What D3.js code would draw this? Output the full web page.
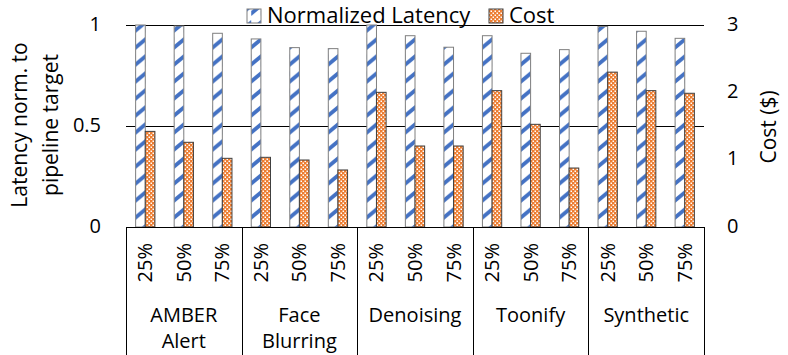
<!DOCTYPE html>
<html>
<head>
<meta charset="utf-8">
<script src="https://cdn.jsdelivr.net/npm/d3@7"></script>
<style>
  body { margin: 0; background: white; }
  text { font-family: "Open Sans", sans-serif; fill: #000; }
</style>
</head>
<body>
<div id="chart"></div>
<script>
// data
var workloads = ["AMBER Alert", "Face Blurring", "Denoising", "Toonify", "Synthetic"];
var levels = ["25%", "50%", "75%"];
var latency = [1.0, 0.995, 0.959, 0.931, 0.888, 0.883, 1.0, 0.947, 0.89, 0.947, 0.86, 0.878, 0.993, 0.969, 0.934];
var cost = [1.42, 1.258, 1.02, 1.035, 0.995, 0.847, 2.0, 1.203, 1.203, 2.025, 1.525, 0.876, 2.30, 2.025, 1.986];
var leftTicks = [0, 0.5, 1];
var rightTicks = [0, 1, 2, 3];
var seriesNames = ["Normalized Latency", "Cost"];

var width = 788, height = 355;
var x0 = 126, x1 = 704, yTop = 25, yBot = 227;

var svg = d3.select("#chart").append("svg")
    .attr("width", width)
    .attr("height", height);

// slots: one per workload/level pair
var slots = [];
workloads.forEach(function(w) {
  levels.forEach(function(l) { slots.push(w + "|" + l); });
});

var xGroup = d3.scaleBand().domain(workloads).range([x0, x1]);
var xSlot = d3.scaleBand().domain(slots).range([x0, x1]);
var yL = d3.scaleLinear().domain([0, 1]).range([yBot, yTop]);
var yR = d3.scaleLinear().domain([0, 3]).range([yBot, yTop]);
var barW = xSlot.bandwidth() / 4;

// patterns
var defs = svg.append("defs");
var pLat = defs.append("pattern")
    .attr("id", "latPat")
    .attr("patternUnits", "userSpaceOnUse")
    .attr("x", x0).attr("y", 0)
    .attr("width", barW).attr("height", 17);
pLat.append("rect").attr("width", barW).attr("height", 17).style("fill", "white");
pLat.append("polygon")
    .attr("points", "0,11 " + barW + ",3 " + barW + ",8 0,16")
    .style("fill", "#4472C4");

var pCost = defs.append("pattern")
    .attr("id", "costPat")
    .attr("patternUnits", "userSpaceOnUse")
    .attr("width", 4).attr("height", 4);
pCost.append("rect").attr("width", 4).attr("height", 4).style("fill", "#ED7D31");
pCost.append("rect").attr("x", 0.5).attr("y", 0.5).attr("width", 1.5).attr("height", 1.5).style("fill", "white");
pCost.append("rect").attr("x", 2.5).attr("y", 2.5).attr("width", 1.5).attr("height", 1.5).style("fill", "white");

// gridlines
svg.selectAll(".grid").data(leftTicks).enter()
  .append("line")
  .attr("x1", x0)
  .attr("x2", x1)
  .attr("y1", function(d) { return Math.round(yL(d)) + 0.5; })
  .attr("y2", function(d) { return Math.round(yL(d)) + 0.5; })
  .style("stroke", "#000")
  .style("stroke-width", 1);

// bars
svg.selectAll(".lat").data(latency).enter()
  .append("rect")
  .attr("x", function(d, i) { return xSlot(slots[i]) + barW; })
  .attr("y", function(d) { return yL(d); })
  .attr("width", barW)
  .attr("height", function(d) { return yBot - yL(d); })
  .style("fill", "url(#latPat)")
  .style("stroke", "#7f7f7f")
  .style("stroke-width", 1);

svg.selectAll(".cost").data(cost).enter()
  .append("rect")
  .attr("x", function(d, i) { return xSlot(slots[i]) + 2 * barW; })
  .attr("y", function(d) { return yR(d); })
  .attr("width", barW)
  .attr("height", function(d) { return yBot - yR(d); })
  .style("fill", "url(#costPat)")
  .style("stroke", "#404040")
  .style("stroke-width", 1);

// category axis: baseline and separators
svg.append("line")
  .attr("x1", x0).attr("x2", x1)
  .attr("y1", yBot + 0.5).attr("y2", yBot + 0.5)
  .style("stroke", "#000");

var bounds = workloads.map(function(w) { return xGroup(w); }).concat([x1]);
svg.selectAll(".sep").data(bounds).enter()
  .append("line")
  .attr("x1", function(d) { return Math.round(d) + 0.5; })
  .attr("x2", function(d) { return Math.round(d) + 0.5; })
  .attr("y1", yBot)
  .attr("y2", height)
  .style("stroke", "#000");

// level labels (rotated)
svg.selectAll(".lvl").data(slots).enter()
  .append("text")
  .attr("transform", function(d) {
    var cx = xSlot(d) + xSlot.bandwidth() / 2 + 7;
    return "translate(" + cx + ",243) rotate(-90)";
  })
  .attr("text-anchor", "end")
  .style("font-size", "20px")
  .text(function(d) { return d.split("|")[1]; });

// workload labels
var wl = svg.selectAll(".wl").data(workloads).enter()
  .append("text")
  .attr("x", function(d) { return xGroup(d) + xGroup.bandwidth() / 2; })
  .attr("y", 322)
  .attr("text-anchor", "middle")
  .style("font-size", "20px");
wl.selectAll("tspan").data(function(d) { return d.split(" "); }).enter()
  .append("tspan")
  .attr("x", function() { var p = this.parentNode; return p.getAttribute("x"); })
  .attr("dy", function(d, i) { return i === 0 ? 0 : 26; })
  .text(function(d) { return d; });

// left axis labels
svg.selectAll(".lt").data(leftTicks).enter()
  .append("text")
  .attr("x", 101)
  .attr("y", function(d) { return yL(d) - 2; })
  .attr("text-anchor", "end")
  .attr("dominant-baseline", "central")
  .style("font-size", "20px")
  .text(function(d) { return d; });

// right axis labels
svg.selectAll(".rt").data(rightTicks).enter()
  .append("text")
  .attr("x", 727)
  .attr("y", function(d) { return yR(d) - 2; })
  .attr("dominant-baseline", "central")
  .style("font-size", "20px")
  .text(function(d) { return d; });

// axis titles
var lt = svg.append("text")
  .attr("transform", "translate(27,125) rotate(-90)")
  .attr("text-anchor", "middle")
  .style("font-size", "21px");
lt.append("tspan").attr("x", 0).attr("dy", 0).text("Latency norm. to");
lt.append("tspan").attr("x", 0).attr("dy", 31).text("pipeline target");

svg.append("text")
  .attr("transform", "translate(776,127) rotate(-90)")
  .attr("text-anchor", "middle")
  .style("font-size", "21px")
  .text("Cost ($)");

// legend
var legendX = [247, 489];
var legendFill = ["url(#latPat)", "url(#costPat)"];
var legend = svg.append("g");
legend.selectAll("rect").data(seriesNames).enter()
  .append("rect")
  .attr("x", function(d, i) { return legendX[i]; })
  .attr("y", 9)
  .attr("width", 14)
  .attr("height", 14)
  .style("fill", function(d, i) { return legendFill[i]; })
  .style("stroke", function(d, i) { return i === 0 ? "#7f7f7f" : "#404040"; });
legend.selectAll("text").data(seriesNames).enter()
  .append("text")
  .attr("x", function(d, i) { return legendX[i] + 20; })
  .attr("y", 23)
  .style("font-size", "22px")
  .text(function(d) { return d; });
</script>
</body>
</html>
